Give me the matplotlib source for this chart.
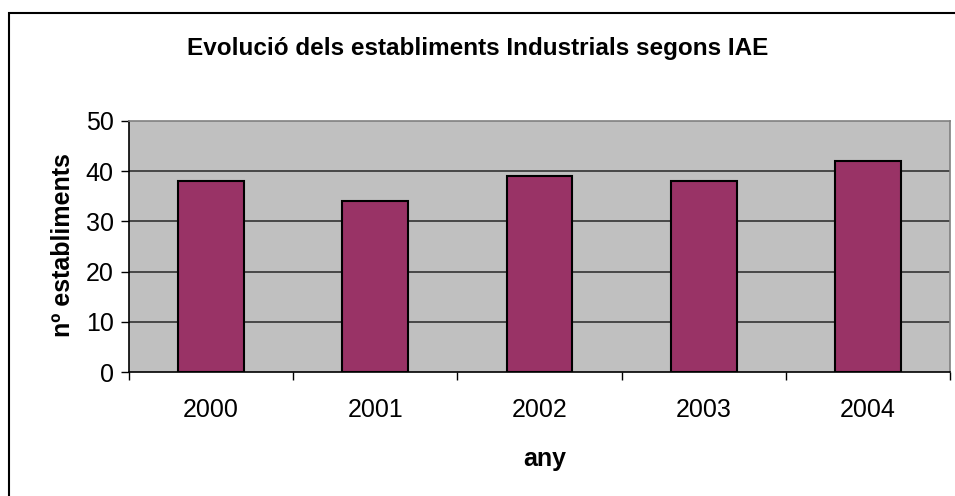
import matplotlib
matplotlib.use("Agg")
import matplotlib.pyplot as plt
from matplotlib.patches import Rectangle
import numpy as np

years = ["2000", "2001", "2002", "2003", "2004"]
values = [38, 34, 39, 38, 42]
yticks = [0, 10, 20, 30, 40, 50]

plt.rcParams['font.family'] = ['Liberation Sans', 'DejaVu Sans']

fig = plt.figure(figsize=(9.55, 4.96), dpi=100)
fig.patch.set_facecolor('white')

# chart border
fig.patches.append(Rectangle((9/955, -0.2), 2.0, (496-13)/496 + 0.2,
                             transform=fig.transFigure, fill=False,
                             edgecolor='black', linewidth=1.5, zorder=0))

ax = fig.add_axes([129/955, (496-372)/496, (950-129)/955, (372-121)/496])
ax.set_facecolor('#C0C0C0')
x = np.arange(len(years))
ax.bar(x, values, width=0.4, color='#993366', edgecolor='black', linewidth=1.5, zorder=3)
ax.set_xlim(-0.5, len(years) - 0.5)
ax.set_ylim(0, 50)
ax.set_yticks(yticks)
ax.set_yticklabels([str(t) for t in yticks], fontsize=18)
ax.set_xticks(x)
ax.set_xticklabels(years, fontsize=18)
ax.set_xticks(np.arange(-0.5, len(years)), minor=True)
ax.tick_params(axis='x', which='major', length=0, pad=19)
ax.tick_params(axis='x', which='minor', length=6, width=1, color='black')
ax.tick_params(axis='y', which='major', length=6, width=1, color='black', pad=5)
for t in [10, 20, 30, 40]:
    ax.axhline(t, color='#333333', linewidth=1.2, zorder=1)
for side in ['top', 'right']:
    ax.spines[side].set_color('#808080')
    ax.spines[side].set_linewidth(1.2)
for side in ['left', 'bottom']:
    ax.spines[side].set_color('black')
    ax.spines[side].set_linewidth(1.2)

fig.text(0.5, 1 - 55/496, "Evolució dels establiments Industrials segons IAE",
         ha='center', va='baseline', fontsize=17.5, fontweight='bold')
fig.text(545/955, 1 - 459/496, "any", ha='center', va='center', fontsize=18, fontweight='bold')
fig.text(63/955, 1 - 245/496, "nº establiments", ha='center', va='center',
         rotation=90, fontsize=18, fontweight='bold')

fig.savefig("out.png", dpi=100, facecolor='white')
